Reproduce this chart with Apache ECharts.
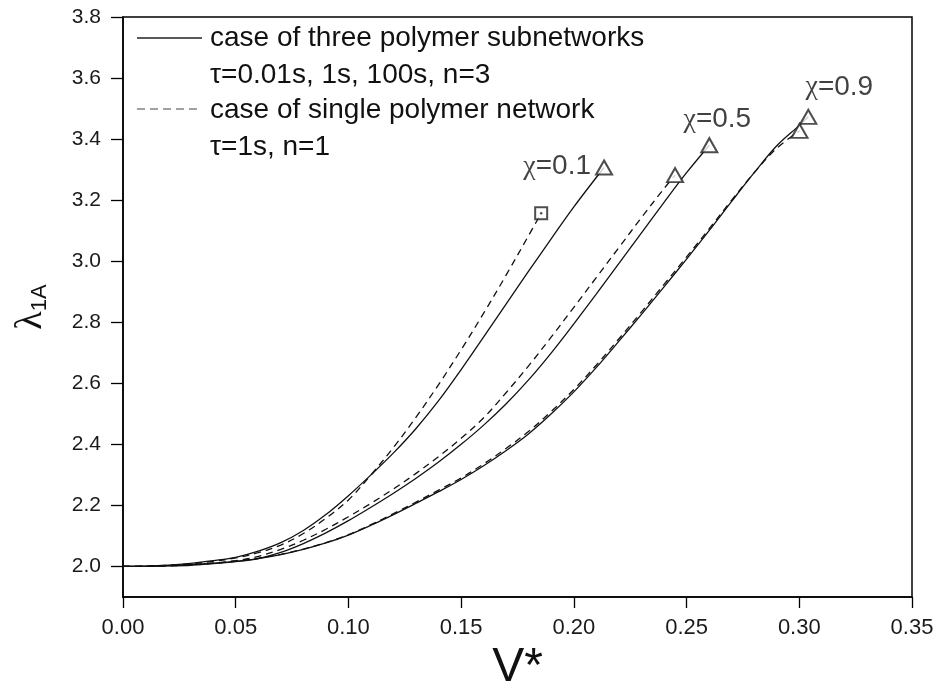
<!DOCTYPE html>
<html>
<head>
<meta charset="utf-8">
<script src="https://cdn.jsdelivr.net/npm/echarts@6/dist/echarts.min.js"></script>
<style>
html,body{margin:0;padding:0;background:#fff;}
#chart{width:938px;height:689px;}
</style>
</head>
<body>
<div id="chart"></div>
<script>
// ---- data (V*, lambda_1A) ----
// chi = 0.1, three subnetworks (solid)
const x_s01 = [0,0.01,0.02,0.03,0.04,0.05,0.06,0.07,0.08,0.09,0.10,0.11,0.12,0.13,0.14,0.15,0.16,0.17,0.18,0.19,0.20,0.2134];
const y_s01 = [2.0,2.001,2.004,2.01,2.019,2.03,2.05,2.078,2.118,2.17,2.232,2.3,2.372,2.452,2.543,2.645,2.752,2.86,2.968,3.074,3.178,3.307];
// chi = 0.1, single network (dashed)
const x_d01 = [0,0.01,0.02,0.03,0.04,0.05,0.06,0.07,0.08,0.09,0.10,0.11,0.12,0.13,0.14,0.15,0.16,0.17,0.18,0.1855];
const y_d01 = [2.0,2.001,2.004,2.009,2.017,2.028,2.045,2.07,2.108,2.158,2.218,2.3,2.39,2.489,2.596,2.71,2.83,2.955,3.085,3.157];
// chi = 0.5, solid
const x_s05 = [0,0.01,0.02,0.03,0.04,0.05,0.06,0.07,0.08,0.09,0.10,0.11,0.12,0.13,0.14,0.15,0.16,0.17,0.18,0.19,0.20,0.21,0.22,0.23,0.24,0.25,0.2601];
const y_s05 = [2.0,2.0005,2.002,2.004,2.009,2.016,2.026,2.046,2.075,2.11,2.15,2.194,2.24,2.289,2.342,2.4,2.463,2.533,2.612,2.7,2.795,2.893,2.993,3.093,3.193,3.29,3.38];
// chi = 0.5, dashed
const x_d05 = [0,0.01,0.02,0.03,0.04,0.05,0.06,0.07,0.08,0.09,0.10,0.11,0.12,0.13,0.14,0.15,0.16,0.17,0.18,0.19,0.20,0.21,0.22,0.23,0.24,0.2449];
const y_d05 = [2.0,2.0005,2.002,2.005,2.01,2.019,2.033,2.056,2.086,2.122,2.163,2.207,2.254,2.305,2.36,2.42,2.487,2.57,2.658,2.752,2.849,2.947,3.045,3.143,3.238,3.282];
// chi = 0.9, solid
const x_s09 = [0,0.01,0.02,0.03,0.04,0.05,0.06,0.07,0.08,0.09,0.10,0.11,0.12,0.13,0.14,0.15,0.16,0.17,0.18,0.19,0.20,0.21,0.22,0.23,0.24,0.25,0.26,0.27,0.28,0.29,0.30,0.304];
const y_s09 = [2.0,2.0004,2.003,2.006,2.011,2.017,2.026,2.039,2.056,2.077,2.103,2.135,2.17,2.207,2.245,2.285,2.33,2.38,2.435,2.5,2.572,2.652,2.738,2.826,2.916,3.007,3.1,3.196,3.29,3.378,3.445,3.473];
// chi = 0.9, dashed
const x_d09 = [0,0.01,0.02,0.03,0.04,0.05,0.06,0.07,0.08,0.09,0.10,0.11,0.12,0.13,0.14,0.15,0.16,0.17,0.18,0.19,0.20,0.21,0.22,0.23,0.24,0.25,0.26,0.27,0.28,0.29,0.3001];
const y_d09 = [2.0,2.0004,2.003,2.006,2.011,2.018,2.027,2.04,2.057,2.078,2.104,2.137,2.173,2.211,2.25,2.29,2.336,2.387,2.443,2.508,2.58,2.66,2.746,2.834,2.924,3.014,3.106,3.2,3.29,3.37,3.427];

const chiLabels = ['0.1','0.5','0.9'];
const yTicks = [2.0,2.2,2.4,2.6,2.8,3.0,3.2,3.4,3.6,3.8];
const legendTexts = ['case of three polymer subnetworks','τ=0.01s, 1s, 100s, n=3','case of single polymer network','τ=1s, n=1'];

const zip = (xs, ys) => xs.map((x, i) => [x, ys[i]]);
const last = (xs, ys) => [xs[xs.length - 1], ys[ys.length - 1]];

const SANS = 'Liberation Sans, Arial, sans-serif';
const SERIF = 'Liberation Serif, Times New Roman, serif';
const INK = '#111';

function curve(name, xs, ys, dashed) {
  return {
    name: name, type: 'line', data: zip(xs, ys), showSymbol: false, smooth: 0.35,
    lineStyle: { color: INK, width: 1.3, type: dashed ? [7, 5] : 'solid' },
    z: 2, silent: true
  };
}

const chiRich = {
  g: { fontFamily: SERIF, fontSize: 28, color: INK },
  n: { fontFamily: SANS, fontSize: 28, color: INK }
};

const solidEnds = [last(x_s01, y_s01), last(x_s05, y_s05), last(x_s09, y_s09)];
const labelPos = [
  { position: 'left', distance: 4, offset: [0, -1] },
  { position: 'top', distance: 4, offset: [8, 0] },
  { position: 'top', distance: 8, offset: [31, 0] }
];

const chart = echarts.init(document.getElementById('chart'), null, { renderer: 'canvas' });
chart.setOption({
  animation: false,
  backgroundColor: '#fff',
  grid: { left: 123, right: 26, top: 17, bottom: 92, show: true, borderColor: '#000', borderWidth: 1.5, outerBoundsMode: 'none' },
  xAxis: {
    type: 'value', min: 0, max: 0.35, interval: 0.05,
    name: 'V*', nameLocation: 'middle', nameGap: 43,
    nameTextStyle: { fontFamily: SANS, fontSize: 48, color: INK },
    axisLine: { show: true, lineStyle: { color: '#000', width: 1.5 } },
    axisTick: { show: true, inside: false, length: 11, lineStyle: { color: '#000', width: 1.3 } },
    axisLabel: { margin: 20, fontFamily: SANS, fontSize: 22, color: '#1a1a1a', formatter: v => v.toFixed(2) },
    splitLine: { show: false }
  },
  yAxis: {
    type: 'value', min: 1.9, max: 3.8,
    name: '{l|λ}{s|1A}', nameLocation: 'middle', nameGap: 72,
    nameTextStyle: {
      rich: {
        l: { fontFamily: SERIF, fontSize: 38, color: INK, lineHeight: 40, verticalAlign: 'middle' },
        s: { fontFamily: SANS, fontSize: 22, color: INK, lineHeight: 40, verticalAlign: 'bottom' }
      }
    },
    axisLine: { show: true, lineStyle: { color: '#000', width: 1.5 } },
    axisTick: { show: true, inside: false, length: 12, customValues: yTicks, lineStyle: { color: '#000', width: 1.3 } },
    axisLabel: { margin: 22, fontFamily: SANS, fontSize: 21, color: '#1a1a1a', customValues: yTicks, formatter: v => v.toFixed(1) },
    splitLine: { show: false }
  },
  series: [
    curve('s01', x_s01, y_s01, false),
    curve('d01', x_d01, y_d01, true),
    curve('s05', x_s05, y_s05, false),
    curve('d05', x_d05, y_d05, true),
    curve('s09', x_s09, y_s09, false),
    curve('d09', x_d09, y_d09, true),
    {
      type: 'scatter', symbol: 'emptyTriangle', symbolSize: [16, 14], z: 5, silent: true,
      itemStyle: { color: '#222', borderWidth: 1 },
      data: solidEnds.map((p, i) => ({
        value: p,
        label: Object.assign({
          show: true, formatter: '{g|χ}{n|=' + chiLabels[i] + '}', rich: chiRich
        }, labelPos[i])
      }))
    },
    {
      type: 'scatter', symbol: 'emptyTriangle', symbolSize: [16, 14], z: 5, silent: true,
      itemStyle: { color: '#222', borderWidth: 1 },
      data: [last(x_d05, y_d05), last(x_d09, y_d09)]
    },
    {
      type: 'scatter', symbol: 'emptyRect', symbolSize: 12, z: 5, silent: true,
      itemStyle: { color: '#222', borderWidth: 1 },
      data: [last(x_d01, y_d01)]
    },
    {
      type: 'scatter', symbol: 'circle', symbolSize: 2.5, z: 6, silent: true,
      itemStyle: { color: '#222' },
      data: [last(x_d01, y_d01)]
    }
  ],
  graphic: [
    { type: 'line', shape: { x1: 137, y1: 38, x2: 202, y2: 38 }, style: { stroke: '#222', lineWidth: 1.3 } },
    { type: 'line', shape: { x1: 137, y1: 109, x2: 202, y2: 109 }, style: { stroke: '#444', lineWidth: 1.2, lineDash: [8, 5] } },
    { type: 'text', x: 210, y: 38, style: { text: legendTexts[0], font: '28px ' + SANS, fill: INK, verticalAlign: 'middle' } },
    { type: 'text', x: 210, y: 75, style: { text: legendTexts[1], font: '28px ' + SANS, fill: INK, verticalAlign: 'middle' } },
    { type: 'text', x: 210, y: 110, style: { text: legendTexts[2], font: '28px ' + SANS, fill: INK, verticalAlign: 'middle' } },
    { type: 'text', x: 210, y: 147, style: { text: legendTexts[3], font: '28px ' + SANS, fill: INK, verticalAlign: 'middle' } }
  ]
});
</script>
</body>
</html>
